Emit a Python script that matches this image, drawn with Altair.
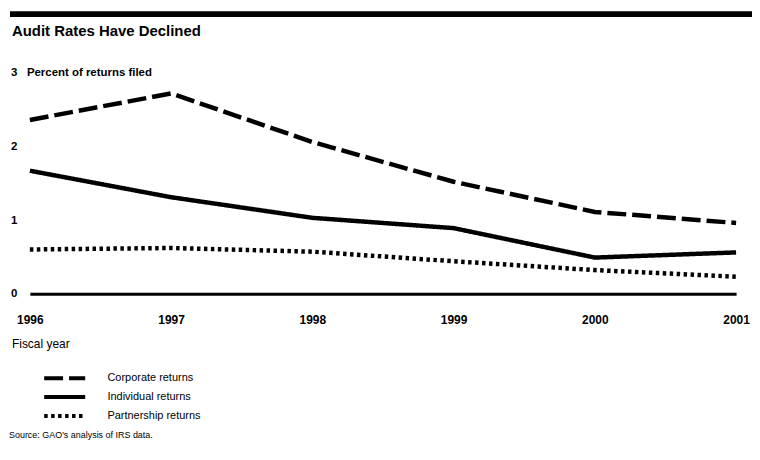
import altair as alt
import pandas as pd

years = [1996, 1997, 1998, 1999, 2000, 2001]
corporate = [2.36, 2.72, 2.06, 1.52, 1.11, 0.96]
individual = [1.67, 1.31, 1.03, 0.89, 0.49, 0.56]
partnership = [0.60, 0.62, 0.57, 0.44, 0.32, 0.23]
series_names = ["Corporate returns", "Individual returns", "Partnership returns"]
y_ticks = [0, 1, 2, 3]

FONT = "Liberation Sans"

rows = []
for name, vals in zip(series_names, [corporate, individual, partnership]):
    for yr, v in zip(years, vals):
        rows.append({"year": yr, "value": v, "series": name})
df = pd.DataFrame(rows)

lines = alt.Chart(df).mark_line(color="black", strokeWidth=4.5).encode(
    x=alt.X("year:Q", scale=alt.Scale(domain=[1996, 2001], nice=False, zero=False),
            axis=alt.Axis(values=years, format="d", title=None, ticks=False, grid=False,
                          domain=True, domainColor="black", domainWidth=3,
                          labelFont=FONT, labelFontSize=12, labelFontWeight="bold",
                          labelColor="black", labelPadding=21, labelFlush=False)),
    y=alt.Y("value:Q", scale=alt.Scale(domain=[0, 3], nice=False),
            axis=alt.Axis(values=y_ticks, title=None, ticks=False, grid=False, domain=False,
                          labelFont=FONT, labelFontSize=11.5, labelFontWeight="bold",
                          labelColor="black", labelPadding=13)),
    strokeDash=alt.StrokeDash("series:N",
        scale=alt.Scale(domain=series_names, range=[[19, 6], [1, 0], [3.5, 3.5]]),
        legend=alt.Legend(title=None, orient="none", legendX=12, legendY=299,
                          symbolType="stroke", symbolSize=1700, symbolStrokeWidth=4,
                          symbolStrokeColor="black", clipHeight=16, rowPadding=3,
                          labelFont=FONT, labelFontSize=11, labelColor="black",
                          labelOffset=20, padding=0)),
    detail="series:N",
)

def text_layer(txt, x, y, size, weight="normal"):
    return alt.Chart(pd.DataFrame({"t": [txt]})).mark_text(
        align="left", baseline="middle", font=FONT, fontSize=size,
        fontWeight=weight, color="black"
    ).encode(text="t:N", x=alt.value(x), y=alt.value(y))

top_bar = alt.Chart(pd.DataFrame({"a": [0]})).mark_rule(
    color="black", strokeWidth=6
).encode(x=alt.value(-20), x2=alt.value(726), y=alt.value(-59))

title = text_layer("Audit Rates Have Declined", -18, -42, 15, "bold")
ytitle = text_layer("Percent of returns filed", -3, 0, 11.5, "bold")
xtitle = text_layer("Fiscal year", -18, 273, 12)
source = text_layer("Source: GAO's analysis of IRS data.", -21, 364, 9)

chart = alt.layer(top_bar, lines, title, ytitle, xtitle, source).properties(
    width=710, height=222,
    autosize=alt.AutoSizeParams(type="none"),
    padding={"left": 22, "top": 64, "right": 16, "bottom": 150},
).configure_view(stroke=None)

chart.save("out.html", embed_options={"renderer": "svg", "actions": False})
